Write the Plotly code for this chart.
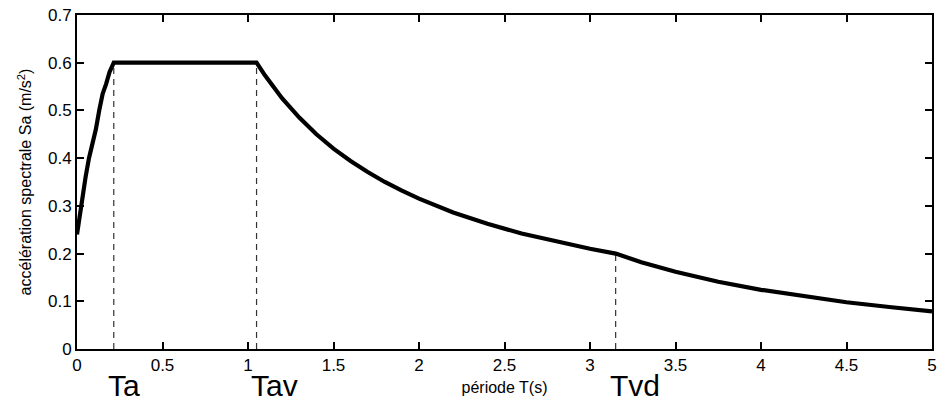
import plotly.graph_objects as go

# Spectre de réponse : période T (s) et accélération spectrale Sa (m/s²)
periode = [0.0, 0.02, 0.035, 0.05, 0.07, 0.09, 0.11, 0.13, 0.15, 0.17, 0.19, 0.215,
           0.4, 0.6, 0.8, 1.0, 1.05,
           1.1, 1.2, 1.3, 1.4, 1.5, 1.6, 1.7, 1.8, 1.9, 2.0, 2.2, 2.4, 2.6, 2.8, 3.0, 3.15,
           3.3, 3.5, 3.75, 4.0, 4.25, 4.5, 4.75, 5.0]
sa = [0.24, 0.29, 0.335, 0.36, 0.40, 0.43, 0.46, 0.50, 0.535, 0.555, 0.58, 0.60,
      0.60, 0.60, 0.60, 0.60, 0.60,
      0.573, 0.525, 0.485, 0.45, 0.42, 0.394, 0.371, 0.35, 0.332, 0.315, 0.286, 0.2625,
      0.242, 0.225, 0.21, 0.20,
      0.182, 0.162, 0.141, 0.124, 0.11, 0.098, 0.088, 0.079]

# Périodes caractéristiques
coins_noms = ["Ta", "Tav", "Tvd"]
coins_T = [0.215, 1.05, 3.15]
coins_sa = [0.60, 0.60, 0.20]

x_ticks = [0, 0.5, 1, 1.5, 2, 2.5, 3, 3.5, 4, 4.5, 5]
x_ticktext = ["0", "0.5", "1", "1.5", "2", "2.5", "3", "3.5", "4", "4.5", "5"]
y_ticks = [0, 0.1, 0.2, 0.3, 0.4, 0.5, 0.6, 0.7]
y_ticktext = ["0", "0.1", "0.2", "0.3", "0.4", "0.5", "0.6", "0.7"]

FONT = "Liberation Sans, Arial, sans-serif"

fig = go.Figure()

# dashed vertical markers
for t, s in zip(coins_T, coins_sa):
    fig.add_trace(go.Scatter(x=[t, t], y=[0, s], mode="lines",
                             line=dict(color="#333333", width=1.2, dash="6px,5px"),
                             showlegend=False, hoverinfo="skip"))

fig.add_trace(go.Scatter(x=periode, y=sa, mode="lines",
                         line=dict(color="black", width=4.2),
                         showlegend=False))

for name, t in zip(coins_noms, coins_T):
    fig.add_annotation(x=t, y=0, xref="x", yref="paper", text=name,
                       showarrow=False, xanchor="left", yanchor="top",
                       xshift=-8, yshift=-18,
                       font=dict(family=FONT, size=30, color="black"))

axis_common = dict(ticks="inside", ticklen=7, tickwidth=1.8, tickcolor="black",
                   showline=True, linecolor="black", linewidth=1.8, mirror="allticks",
                   showgrid=False, zeroline=False)

fig.update_layout(
    width=943, height=403,
    margin=dict(l=77, r=6, t=13, b=54),
    paper_bgcolor="white", plot_bgcolor="white",
    font=dict(family=FONT, size=17, color="black"),
    xaxis=dict(range=[0, 5], tickvals=x_ticks, ticktext=x_ticktext,
               title=dict(text="période T(s)", standoff=8,
                          font=dict(family=FONT, size=16)),
               **axis_common),
    yaxis=dict(range=[0, 0.7], tickvals=y_ticks, ticktext=y_ticktext,
               title=dict(text="accélération spectrale Sa (m/s<sup>2</sup>)", standoff=12,
                          font=dict(family=FONT, size=16)),
               **axis_common),
)

fig.write_html("out.html")
